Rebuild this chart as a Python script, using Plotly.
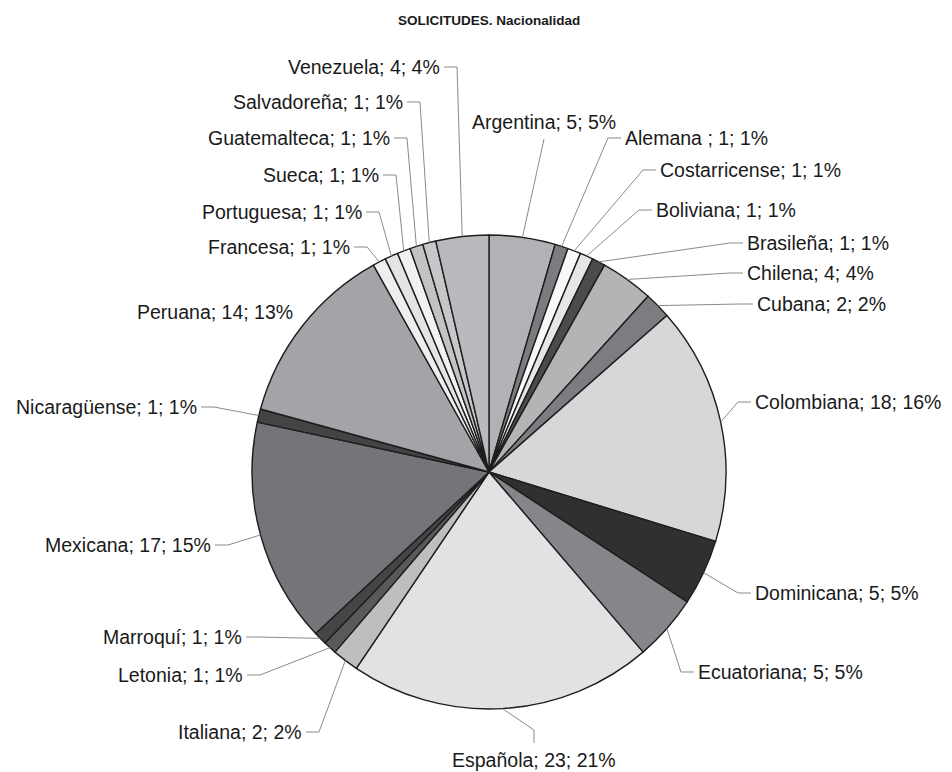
import math
import plotly.graph_objects as go

W, H = 952, 772
OFF = 8  # page body margin offset

# ---- data ----
categories = ["Argentina", "Alemana ", "Costarricense", "Boliviana", "Brasileña", "Chilena",
              "Cubana", "Colombiana", "Dominicana", "Ecuatoriana", "Española", "Italiana",
              "Letonia", "Marroquí", "Mexicana", "Nicaragüense", "Peruana", "Francesa",
              "Portuguesa", "Sueca", "Guatemalteca", "Salvadoreña", "Venezuela"]
counts = [5, 1, 1, 1, 1, 4, 2, 18, 5, 5, 23, 2, 1, 1, 17, 1, 14, 1, 1, 1, 1, 1, 4]

# ---- styles ----
colors = ["#b1b2b5", "#7b7c7f", "#f8f8f8", "#e6e6e6", "#4b4b4d", "#b3b4b6",
          "#7c7d80", "#d6d7d8", "#312f30", "#858689", "#e1e2e3", "#bdbec0",
          "#58595b", "#454547", "#747579", "#444446", "#a3a4a7", "#eeeeee",
          "#e3e4e5", "#f0f1f1", "#c2c3c5", "#c6c7c9", "#b9babd"]

# label placement (pixel position of label anchor, anchor side, draw leader?)
label_pos = [
    ("center", 544, 122, True), ("left", 625, 138, True), ("left", 660, 170, True),
    ("left", 656, 210, True), ("left", 747, 243, True), ("left", 747, 273, True),
    ("left", 757, 304, True), ("left", 755, 402, True), ("left", 755, 593, True),
    ("left", 698, 672, True), ("below", 534, 760, True), ("right", 302, 732, True),
    ("right", 243, 675, True), ("right", 242, 637, True), ("right", 211, 545, True),
    ("right", 197, 407, True), ("right", 293, 312, False), ("right", 350, 247, True),
    ("right", 362, 212, True), ("right", 379, 175, True), ("right", 390, 138, True),
    ("right", 403, 102, True), ("right", 440, 67, True),
]

CX, CY, R = 489, 472, 237
FONT = "Liberation Sans, Arial, sans-serif"
PAD = 2  # annotation box padding compensation


def px(x):
    return (x - OFF) / W


def py(y):
    return 1 - (y - OFF) / H


total = sum(counts)
texts = [f"{c}; {v}; {round(100 * v / total)}%" for c, v in zip(categories, counts)]

fig = go.Figure()
fig.add_trace(go.Pie(
    labels=categories, values=counts, sort=False, direction="clockwise", rotation=0,
    textinfo="none", hoverinfo="label+value+percent",
    marker=dict(colors=colors, line=dict(color="#1e1e1e", width=1.4)),
    domain=dict(x=[px(CX - R), px(CX + R)], y=[py(CY + R), py(CY - R)]),
    showlegend=False,
))

shapes = []
annotations = []
cum = 0
for v, t, (side, lx, ly, leader) in zip(counts, texts, label_pos):
    mid = (cum + v / 2) / total * 2 * math.pi
    cum += v
    sx = CX + R * math.sin(mid)
    sy = CY - R * math.cos(mid)
    tx = lx
    if side == "left":
        pts = [(sx, sy), (lx - 17, ly), (lx - 4, ly)]
        anchor = "left"
        tx = lx - PAD
    elif side == "right":
        pts = [(sx, sy), (lx + 17, ly), (lx + 4, ly)]
        anchor = "right"
        tx = lx + PAD
    elif side == "center":
        pts = [(sx, sy), (lx, ly + 17)]
        anchor = "center"
    else:  # below
        pts = [(sx, sy), (lx, ly - 30), (lx, ly - 17)]
        anchor = "center"
    annotations.append(dict(x=px(tx), y=py(ly), xanchor=anchor, yanchor="middle", text=t))
    if leader:
        path = "M " + " L ".join(f"{px(x):.5f},{py(y):.5f}" for x, y in pts)
        shapes.append(dict(type="path", xref="paper", yref="paper", path=path,
                           line=dict(color="#8a8a8a", width=1), layer="above"))

for a in annotations:
    a.update(xref="paper", yref="paper", showarrow=False,
             font=dict(family=FONT, size=19.5, color="#1a1a1a"))

annotations.append(dict(x=px(489), y=py(20), xref="paper", yref="paper", showarrow=False,
                        xanchor="center", yanchor="middle",
                        text="<b>SOLICITUDES. Nacionalidad</b>",
                        font=dict(family=FONT, size=13.5, color="#1a1a1a")))

fig.update_layout(
    width=W, height=H, margin=dict(l=0, r=0, t=0, b=0),
    paper_bgcolor="white", plot_bgcolor="white",
    shapes=shapes, annotations=annotations,
)

fig.write_html("out.html")
